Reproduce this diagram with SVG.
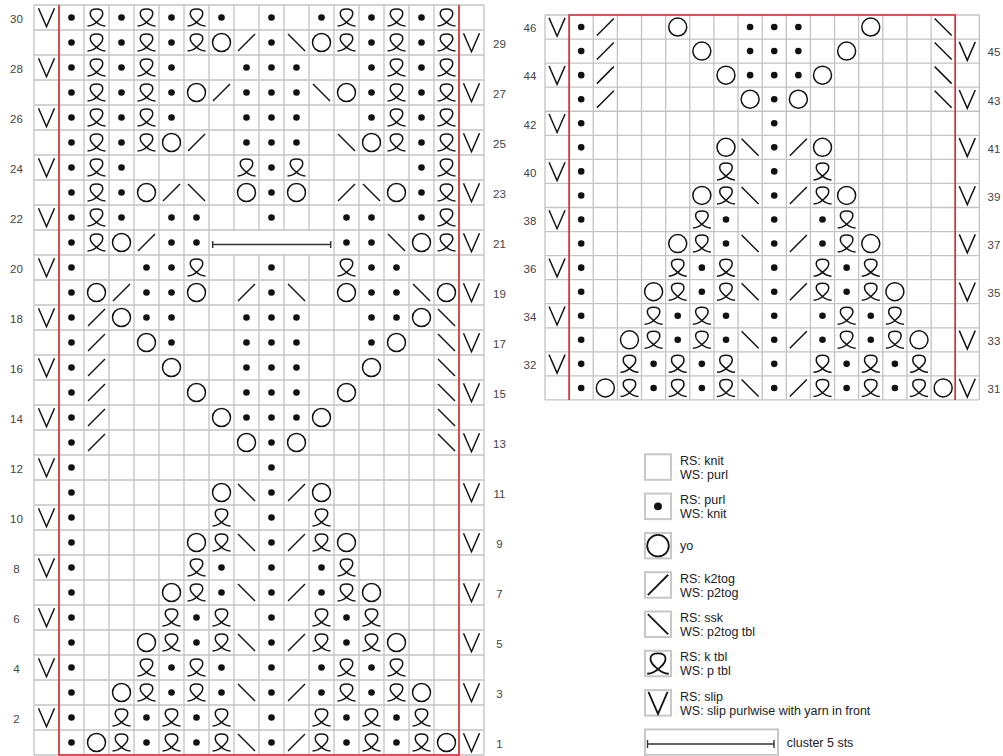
<svg xmlns="http://www.w3.org/2000/svg" width="1003" height="756" viewBox="0 0 1003 756">
<style>
.grid{fill:none;stroke:#c3c3c3;stroke-width:1.3}
.red{fill:none;stroke:#e3262d;stroke-width:1.6}
.lbl{font-family:"Liberation Sans",Arial,sans-serif;font-size:11.5px;fill:#444;text-anchor:middle}
.lg{font-family:"Liberation Sans",Arial,sans-serif;font-size:12.5px;fill:#222}
.box{fill:#fff;stroke:#c8c8c8;stroke-width:2}
.cl{fill:none;stroke:#333;stroke-width:1.4}
</style>
<defs>
<circle id="d" r="3.3" fill="#111"/>
<circle id="o" r="9" fill="none" stroke="#141414" stroke-width="1.5"/>
<path id="k" d="M-8.5 8.5L8.5-8.5" fill="none" stroke="#141414" stroke-width="1.5"/>
<path id="s" d="M-8.5-8.5L8.5 8.5" fill="none" stroke="#141414" stroke-width="1.5"/>
<path id="q" d="M-9 8.5C-5 8.5-1.5 6.5 2 3C7.5-1.5 8.5-8.5 0-8.5C-8.5-8.5-7.5-1.5-2 3C1.5 6.5 5 8.5 9 8.5" fill="none" stroke="#141414" stroke-width="1.5"/>
<path id="v" d="M-8-9.2L0 9.2L8-9.2" fill="none" stroke="#141414" stroke-width="1.5"/>
</defs>
<rect width="1003" height="756" fill="#fff"/>

<g id="chart-left">
<path class="grid" d="M34 5H484M34 30H484M34 55H484M34 80H484M34 105H484M34 130H484M34 155H484M34 180H484M34 205H484M34 230H484M34 255H484M34 280H484M34 305H484M34 330H484M34 355H484M34 380H484M34 405H484M34 430H484M34 455H484M34 480H484M34 505H484M34 530H484M34 555H484M34 580H484M34 605H484M34 630H484M34 655H484M34 680H484M34 705H484M34 730H484M34 755H484
M34 5V755M59 5V755M84 5V755M109 5V755M134 5V755M159 5V755M184 5V755M209 5V755M234 5V230M234 255V755M259 5V230M259 255V755M284 5V230M284 255V755M309 5V230M309 255V755M334 5V755M359 5V755M384 5V755M409 5V755M434 5V755M459 5V755M484 5V755"/>
<path class="red" d="M59 5V755H459V5"/>
<g id="left-stitches">
<g transform="translate(0,17.5)"><use href="#v" x="46.5"/><use href="#d" x="71.5"/><use href="#q" x="96.5"/><use href="#d" x="121.5"/><use href="#q" x="146.5"/><use href="#d" x="171.5"/><use href="#q" x="196.5"/><use href="#d" x="221.5"/><use href="#d" x="271.5"/><use href="#d" x="321.5"/><use href="#q" x="346.5"/><use href="#d" x="371.5"/><use href="#q" x="396.5"/><use href="#d" x="421.5"/><use href="#q" x="446.5"/></g>
<g transform="translate(0,42.5)"><use href="#d" x="71.5"/><use href="#q" x="96.5"/><use href="#d" x="121.5"/><use href="#q" x="146.5"/><use href="#d" x="171.5"/><use href="#q" x="196.5"/><use href="#o" x="221.5"/><use href="#k" x="246.5"/><use href="#d" x="271.5"/><use href="#s" x="296.5"/><use href="#o" x="321.5"/><use href="#q" x="346.5"/><use href="#d" x="371.5"/><use href="#q" x="396.5"/><use href="#d" x="421.5"/><use href="#q" x="446.5"/><use href="#v" x="471.5"/></g>
<g transform="translate(0,67.5)"><use href="#v" x="46.5"/><use href="#d" x="71.5"/><use href="#q" x="96.5"/><use href="#d" x="121.5"/><use href="#q" x="146.5"/><use href="#d" x="171.5"/><use href="#d" x="246.5"/><use href="#d" x="271.5"/><use href="#d" x="296.5"/><use href="#d" x="371.5"/><use href="#q" x="396.5"/><use href="#d" x="421.5"/><use href="#q" x="446.5"/></g>
<g transform="translate(0,92.5)"><use href="#d" x="71.5"/><use href="#q" x="96.5"/><use href="#d" x="121.5"/><use href="#q" x="146.5"/><use href="#d" x="171.5"/><use href="#o" x="196.5"/><use href="#k" x="221.5"/><use href="#d" x="246.5"/><use href="#d" x="271.5"/><use href="#d" x="296.5"/><use href="#s" x="321.5"/><use href="#o" x="346.5"/><use href="#d" x="371.5"/><use href="#q" x="396.5"/><use href="#d" x="421.5"/><use href="#q" x="446.5"/><use href="#v" x="471.5"/></g>
<g transform="translate(0,117.5)"><use href="#v" x="46.5"/><use href="#d" x="71.5"/><use href="#q" x="96.5"/><use href="#d" x="121.5"/><use href="#q" x="146.5"/><use href="#d" x="171.5"/><use href="#d" x="246.5"/><use href="#d" x="271.5"/><use href="#d" x="296.5"/><use href="#d" x="371.5"/><use href="#q" x="396.5"/><use href="#d" x="421.5"/><use href="#q" x="446.5"/></g>
<g transform="translate(0,142.5)"><use href="#d" x="71.5"/><use href="#q" x="96.5"/><use href="#d" x="121.5"/><use href="#q" x="146.5"/><use href="#o" x="171.5"/><use href="#k" x="196.5"/><use href="#d" x="246.5"/><use href="#d" x="271.5"/><use href="#d" x="296.5"/><use href="#s" x="346.5"/><use href="#o" x="371.5"/><use href="#q" x="396.5"/><use href="#d" x="421.5"/><use href="#q" x="446.5"/><use href="#v" x="471.5"/></g>
<g transform="translate(0,167.5)"><use href="#v" x="46.5"/><use href="#d" x="71.5"/><use href="#q" x="96.5"/><use href="#d" x="121.5"/><use href="#q" x="246.5"/><use href="#d" x="271.5"/><use href="#q" x="296.5"/><use href="#d" x="421.5"/><use href="#q" x="446.5"/></g>
<g transform="translate(0,192.5)"><use href="#d" x="71.5"/><use href="#q" x="96.5"/><use href="#d" x="121.5"/><use href="#o" x="146.5"/><use href="#k" x="171.5"/><use href="#s" x="196.5"/><use href="#o" x="246.5"/><use href="#d" x="271.5"/><use href="#o" x="296.5"/><use href="#k" x="346.5"/><use href="#s" x="371.5"/><use href="#o" x="396.5"/><use href="#d" x="421.5"/><use href="#q" x="446.5"/><use href="#v" x="471.5"/></g>
<g transform="translate(0,217.5)"><use href="#v" x="46.5"/><use href="#d" x="71.5"/><use href="#q" x="96.5"/><use href="#d" x="121.5"/><use href="#d" x="171.5"/><use href="#d" x="196.5"/><use href="#d" x="271.5"/><use href="#d" x="346.5"/><use href="#d" x="371.5"/><use href="#d" x="421.5"/><use href="#q" x="446.5"/></g>
<g transform="translate(0,242.5)"><use href="#d" x="71.5"/><use href="#q" x="96.5"/><use href="#o" x="121.5"/><use href="#k" x="146.5"/><use href="#d" x="171.5"/><use href="#d" x="196.5"/><use href="#d" x="346.5"/><use href="#d" x="371.5"/><use href="#s" x="396.5"/><use href="#o" x="421.5"/><use href="#q" x="446.5"/><use href="#v" x="471.5"/></g>
<g transform="translate(0,267.5)"><use href="#v" x="46.5"/><use href="#d" x="71.5"/><use href="#d" x="146.5"/><use href="#d" x="171.5"/><use href="#q" x="196.5"/><use href="#d" x="271.5"/><use href="#q" x="346.5"/><use href="#d" x="371.5"/><use href="#d" x="396.5"/></g>
<g transform="translate(0,292.5)"><use href="#d" x="71.5"/><use href="#o" x="96.5"/><use href="#k" x="121.5"/><use href="#d" x="146.5"/><use href="#d" x="171.5"/><use href="#o" x="196.5"/><use href="#k" x="246.5"/><use href="#d" x="271.5"/><use href="#s" x="296.5"/><use href="#o" x="346.5"/><use href="#d" x="371.5"/><use href="#d" x="396.5"/><use href="#s" x="421.5"/><use href="#o" x="446.5"/><use href="#v" x="471.5"/></g>
<g transform="translate(0,317.5)"><use href="#v" x="46.5"/><use href="#d" x="71.5"/><use href="#k" x="96.5"/><use href="#o" x="121.5"/><use href="#d" x="146.5"/><use href="#d" x="171.5"/><use href="#d" x="246.5"/><use href="#d" x="271.5"/><use href="#d" x="296.5"/><use href="#d" x="371.5"/><use href="#d" x="396.5"/><use href="#o" x="421.5"/><use href="#s" x="446.5"/></g>
<g transform="translate(0,342.5)"><use href="#d" x="71.5"/><use href="#k" x="96.5"/><use href="#o" x="146.5"/><use href="#d" x="171.5"/><use href="#d" x="246.5"/><use href="#d" x="271.5"/><use href="#d" x="296.5"/><use href="#d" x="371.5"/><use href="#o" x="396.5"/><use href="#s" x="446.5"/><use href="#v" x="471.5"/></g>
<g transform="translate(0,367.5)"><use href="#v" x="46.5"/><use href="#d" x="71.5"/><use href="#k" x="96.5"/><use href="#o" x="171.5"/><use href="#d" x="246.5"/><use href="#d" x="271.5"/><use href="#d" x="296.5"/><use href="#o" x="371.5"/><use href="#s" x="446.5"/></g>
<g transform="translate(0,392.5)"><use href="#d" x="71.5"/><use href="#k" x="96.5"/><use href="#o" x="196.5"/><use href="#d" x="246.5"/><use href="#d" x="271.5"/><use href="#d" x="296.5"/><use href="#o" x="346.5"/><use href="#s" x="446.5"/><use href="#v" x="471.5"/></g>
<g transform="translate(0,417.5)"><use href="#v" x="46.5"/><use href="#d" x="71.5"/><use href="#k" x="96.5"/><use href="#o" x="221.5"/><use href="#d" x="246.5"/><use href="#d" x="271.5"/><use href="#d" x="296.5"/><use href="#o" x="321.5"/><use href="#s" x="446.5"/></g>
<g transform="translate(0,442.5)"><use href="#d" x="71.5"/><use href="#k" x="96.5"/><use href="#o" x="246.5"/><use href="#d" x="271.5"/><use href="#o" x="296.5"/><use href="#s" x="446.5"/><use href="#v" x="471.5"/></g>
<g transform="translate(0,467.5)"><use href="#v" x="46.5"/><use href="#d" x="71.5"/><use href="#d" x="271.5"/></g>
<g transform="translate(0,492.5)"><use href="#d" x="71.5"/><use href="#o" x="221.5"/><use href="#s" x="246.5"/><use href="#d" x="271.5"/><use href="#k" x="296.5"/><use href="#o" x="321.5"/><use href="#v" x="471.5"/></g>
<g transform="translate(0,517.5)"><use href="#v" x="46.5"/><use href="#d" x="71.5"/><use href="#q" x="221.5"/><use href="#d" x="271.5"/><use href="#q" x="321.5"/></g>
<g transform="translate(0,542.5)"><use href="#d" x="71.5"/><use href="#o" x="196.5"/><use href="#q" x="221.5"/><use href="#s" x="246.5"/><use href="#d" x="271.5"/><use href="#k" x="296.5"/><use href="#q" x="321.5"/><use href="#o" x="346.5"/><use href="#v" x="471.5"/></g>
<g transform="translate(0,567.5)"><use href="#v" x="46.5"/><use href="#d" x="71.5"/><use href="#q" x="196.5"/><use href="#d" x="221.5"/><use href="#d" x="271.5"/><use href="#d" x="321.5"/><use href="#q" x="346.5"/></g>
<g transform="translate(0,592.5)"><use href="#d" x="71.5"/><use href="#o" x="171.5"/><use href="#q" x="196.5"/><use href="#d" x="221.5"/><use href="#s" x="246.5"/><use href="#d" x="271.5"/><use href="#k" x="296.5"/><use href="#d" x="321.5"/><use href="#q" x="346.5"/><use href="#o" x="371.5"/><use href="#v" x="471.5"/></g>
<g transform="translate(0,617.5)"><use href="#v" x="46.5"/><use href="#d" x="71.5"/><use href="#q" x="171.5"/><use href="#d" x="196.5"/><use href="#q" x="221.5"/><use href="#d" x="271.5"/><use href="#q" x="321.5"/><use href="#d" x="346.5"/><use href="#q" x="371.5"/></g>
<g transform="translate(0,642.5)"><use href="#d" x="71.5"/><use href="#o" x="146.5"/><use href="#q" x="171.5"/><use href="#d" x="196.5"/><use href="#q" x="221.5"/><use href="#s" x="246.5"/><use href="#d" x="271.5"/><use href="#k" x="296.5"/><use href="#q" x="321.5"/><use href="#d" x="346.5"/><use href="#q" x="371.5"/><use href="#o" x="396.5"/><use href="#v" x="471.5"/></g>
<g transform="translate(0,667.5)"><use href="#v" x="46.5"/><use href="#d" x="71.5"/><use href="#q" x="146.5"/><use href="#d" x="171.5"/><use href="#q" x="196.5"/><use href="#d" x="221.5"/><use href="#d" x="271.5"/><use href="#d" x="321.5"/><use href="#q" x="346.5"/><use href="#d" x="371.5"/><use href="#q" x="396.5"/></g>
<g transform="translate(0,692.5)"><use href="#d" x="71.5"/><use href="#o" x="121.5"/><use href="#q" x="146.5"/><use href="#d" x="171.5"/><use href="#q" x="196.5"/><use href="#d" x="221.5"/><use href="#s" x="246.5"/><use href="#d" x="271.5"/><use href="#k" x="296.5"/><use href="#d" x="321.5"/><use href="#q" x="346.5"/><use href="#d" x="371.5"/><use href="#q" x="396.5"/><use href="#o" x="421.5"/><use href="#v" x="471.5"/></g>
<g transform="translate(0,717.5)"><use href="#v" x="46.5"/><use href="#d" x="71.5"/><use href="#q" x="121.5"/><use href="#d" x="146.5"/><use href="#q" x="171.5"/><use href="#d" x="196.5"/><use href="#q" x="221.5"/><use href="#d" x="271.5"/><use href="#q" x="321.5"/><use href="#d" x="346.5"/><use href="#q" x="371.5"/><use href="#d" x="396.5"/><use href="#q" x="421.5"/></g>
<g transform="translate(0,742.5)"><use href="#d" x="71.5"/><use href="#o" x="96.5"/><use href="#q" x="121.5"/><use href="#d" x="146.5"/><use href="#q" x="171.5"/><use href="#d" x="196.5"/><use href="#q" x="221.5"/><use href="#s" x="246.5"/><use href="#d" x="271.5"/><use href="#k" x="296.5"/><use href="#q" x="321.5"/><use href="#d" x="346.5"/><use href="#q" x="371.5"/><use href="#d" x="396.5"/><use href="#q" x="421.5"/><use href="#o" x="446.5"/><use href="#v" x="471.5"/></g>
</g>
<path id="cluster-row21" class="cl" d="M212.7 244.5H330.7M212.7 241V248M330.7 241V248"/>
<g id="left-row-numbers" class="lbl">
<text x="16.5" y="22.8">30</text><text x="16.5" y="72.8">28</text><text x="16.5" y="122.8">26</text><text x="16.5" y="172.8">24</text><text x="16.5" y="222.8">22</text><text x="16.5" y="272.8">20</text><text x="16.5" y="322.8">18</text><text x="16.5" y="372.8">16</text><text x="16.5" y="422.8">14</text><text x="16.5" y="472.8">12</text><text x="16.5" y="522.8">10</text><text x="16.5" y="572.8">8</text><text x="16.5" y="622.8">6</text><text x="16.5" y="672.8">4</text><text x="16.5" y="722.8">2</text>
<text x="499.5" y="47.8">29</text><text x="499.5" y="97.8">27</text><text x="499.5" y="147.8">25</text><text x="499.5" y="197.8">23</text><text x="499.5" y="247.8">21</text><text x="499.5" y="297.8">19</text><text x="499.5" y="347.8">17</text><text x="499.5" y="397.8">15</text><text x="499.5" y="447.8">13</text><text x="499.5" y="497.8">11</text><text x="499.5" y="547.8">9</text><text x="499.5" y="597.8">7</text><text x="499.5" y="647.8">5</text><text x="499.5" y="697.8">3</text><text x="499.5" y="747.8">1</text>
</g>
</g>

<g id="chart-right">
<path class="grid" d="M545 15H979.34M545 39.06H979.34M545 63.12H979.34M545 87.18H979.34M545 111.24H979.34M545 135.3H979.34M545 159.36H979.34M545 183.42H979.34M545 207.48H979.34M545 231.54H979.34M545 255.6H979.34M545 279.66H979.34M545 303.72H979.34M545 327.78H979.34M545 351.84H979.34M545 375.9H979.34M545 399.96H979.34
M545 15V399.96M569.13 15V399.96M593.26 15V399.96M617.39 15V399.96M641.52 15V399.96M665.65 15V399.96M689.78 15V399.96M713.91 15V399.96M738.04 15V399.96M762.17 15V399.96M786.3 15V399.96M810.43 15V399.96M834.56 15V399.96M858.69 15V399.96M882.82 15V399.96M906.95 15V399.96M931.08 15V399.96M955.21 15V399.96M979.34 15V399.96"/>
<path class="red" d="M569.13 399.96V15H955.21V399.96"/>
<g id="right-stitches">
<g transform="translate(0,27.03)"><use href="#v" x="557.07"/><use href="#d" x="581.2"/><use href="#k" x="605.33"/><use href="#o" x="677.72"/><use href="#d" x="750.11"/><use href="#d" x="774.24"/><use href="#d" x="798.37"/><use href="#o" x="870.76"/><use href="#s" x="943.15"/></g>
<g transform="translate(0,51.09)"><use href="#d" x="581.2"/><use href="#k" x="605.33"/><use href="#o" x="701.85"/><use href="#d" x="750.11"/><use href="#d" x="774.24"/><use href="#d" x="798.37"/><use href="#o" x="846.63"/><use href="#s" x="943.15"/><use href="#v" x="967.28"/></g>
<g transform="translate(0,75.15)"><use href="#v" x="557.07"/><use href="#d" x="581.2"/><use href="#k" x="605.33"/><use href="#o" x="725.98"/><use href="#d" x="750.11"/><use href="#d" x="774.24"/><use href="#d" x="798.37"/><use href="#o" x="822.5"/><use href="#s" x="943.15"/></g>
<g transform="translate(0,99.21)"><use href="#d" x="581.2"/><use href="#k" x="605.33"/><use href="#o" x="750.11"/><use href="#d" x="774.24"/><use href="#o" x="798.37"/><use href="#s" x="943.15"/><use href="#v" x="967.28"/></g>
<g transform="translate(0,123.27)"><use href="#v" x="557.07"/><use href="#d" x="581.2"/><use href="#d" x="774.24"/></g>
<g transform="translate(0,147.33)"><use href="#d" x="581.2"/><use href="#o" x="725.98"/><use href="#s" x="750.11"/><use href="#d" x="774.24"/><use href="#k" x="798.37"/><use href="#o" x="822.5"/><use href="#v" x="967.28"/></g>
<g transform="translate(0,171.39)"><use href="#v" x="557.07"/><use href="#d" x="581.2"/><use href="#q" x="725.98"/><use href="#d" x="774.24"/><use href="#q" x="822.5"/></g>
<g transform="translate(0,195.45)"><use href="#d" x="581.2"/><use href="#o" x="701.85"/><use href="#q" x="725.98"/><use href="#s" x="750.11"/><use href="#d" x="774.24"/><use href="#k" x="798.37"/><use href="#q" x="822.5"/><use href="#o" x="846.63"/><use href="#v" x="967.28"/></g>
<g transform="translate(0,219.51)"><use href="#v" x="557.07"/><use href="#d" x="581.2"/><use href="#q" x="701.85"/><use href="#d" x="725.98"/><use href="#d" x="774.24"/><use href="#d" x="822.5"/><use href="#q" x="846.63"/></g>
<g transform="translate(0,243.57)"><use href="#d" x="581.2"/><use href="#o" x="677.72"/><use href="#q" x="701.85"/><use href="#d" x="725.98"/><use href="#s" x="750.11"/><use href="#d" x="774.24"/><use href="#k" x="798.37"/><use href="#d" x="822.5"/><use href="#q" x="846.63"/><use href="#o" x="870.76"/><use href="#v" x="967.28"/></g>
<g transform="translate(0,267.63)"><use href="#v" x="557.07"/><use href="#d" x="581.2"/><use href="#q" x="677.72"/><use href="#d" x="701.85"/><use href="#q" x="725.98"/><use href="#d" x="774.24"/><use href="#q" x="822.5"/><use href="#d" x="846.63"/><use href="#q" x="870.76"/></g>
<g transform="translate(0,291.69)"><use href="#d" x="581.2"/><use href="#o" x="653.59"/><use href="#q" x="677.72"/><use href="#d" x="701.85"/><use href="#q" x="725.98"/><use href="#s" x="750.11"/><use href="#d" x="774.24"/><use href="#k" x="798.37"/><use href="#q" x="822.5"/><use href="#d" x="846.63"/><use href="#q" x="870.76"/><use href="#o" x="894.89"/><use href="#v" x="967.28"/></g>
<g transform="translate(0,315.75)"><use href="#v" x="557.07"/><use href="#d" x="581.2"/><use href="#q" x="653.59"/><use href="#d" x="677.72"/><use href="#q" x="701.85"/><use href="#d" x="725.98"/><use href="#d" x="774.24"/><use href="#d" x="822.5"/><use href="#q" x="846.63"/><use href="#d" x="870.76"/><use href="#q" x="894.89"/></g>
<g transform="translate(0,339.81)"><use href="#d" x="581.2"/><use href="#o" x="629.46"/><use href="#q" x="653.59"/><use href="#d" x="677.72"/><use href="#q" x="701.85"/><use href="#d" x="725.98"/><use href="#s" x="750.11"/><use href="#d" x="774.24"/><use href="#k" x="798.37"/><use href="#d" x="822.5"/><use href="#q" x="846.63"/><use href="#d" x="870.76"/><use href="#q" x="894.89"/><use href="#o" x="919.02"/><use href="#v" x="967.28"/></g>
<g transform="translate(0,363.87)"><use href="#v" x="557.07"/><use href="#d" x="581.2"/><use href="#q" x="629.46"/><use href="#d" x="653.59"/><use href="#q" x="677.72"/><use href="#d" x="701.85"/><use href="#q" x="725.98"/><use href="#d" x="774.24"/><use href="#q" x="822.5"/><use href="#d" x="846.63"/><use href="#q" x="870.76"/><use href="#d" x="894.89"/><use href="#q" x="919.02"/></g>
<g transform="translate(0,387.93)"><use href="#d" x="581.2"/><use href="#o" x="605.33"/><use href="#q" x="629.46"/><use href="#d" x="653.59"/><use href="#q" x="677.72"/><use href="#d" x="701.85"/><use href="#q" x="725.98"/><use href="#s" x="750.11"/><use href="#d" x="774.24"/><use href="#k" x="798.37"/><use href="#q" x="822.5"/><use href="#d" x="846.63"/><use href="#q" x="870.76"/><use href="#d" x="894.89"/><use href="#q" x="919.02"/><use href="#o" x="943.15"/><use href="#v" x="967.28"/></g>
</g>
<g id="right-row-numbers" class="lbl">
<text x="530" y="32.3">46</text><text x="530" y="80.45">44</text><text x="530" y="128.57">42</text><text x="530" y="176.69">40</text><text x="530" y="224.81">38</text><text x="530" y="272.93">36</text><text x="530" y="321.05">34</text><text x="530" y="369.17">32</text>
<text x="994" y="56.39">45</text><text x="994" y="104.51">43</text><text x="994" y="152.63">41</text><text x="994" y="200.75">39</text><text x="994" y="248.87">37</text><text x="994" y="296.99">35</text><text x="994" y="345.11">33</text><text x="994" y="393.23">31</text>
</g>
</g>

<g id="legend">
<g id="key-knit"><rect class="box" x="645" y="454.3" width="26" height="25.5"/><text class="lg" x="680" y="464.8">RS: knit</text><text class="lg" x="680" y="478.8">WS: purl</text></g>
<g id="key-purl"><rect class="box" x="645" y="493.6" width="26" height="25.5"/><use href="#d" transform="translate(658,506.35) scale(1.2)"/><text class="lg" x="680" y="504.1">RS: purl</text><text class="lg" x="680" y="518.1">WS: knit</text></g>
<g id="key-yo"><rect class="box" x="645" y="532.9" width="26" height="25.5"/><use href="#o" transform="translate(658,545.65) scale(1.2)"/><text class="lg" x="680" y="549.5">yo</text></g>
<g id="key-k2tog"><rect class="box" x="645" y="572.2" width="26" height="25.5"/><use href="#k" transform="translate(658,584.95) scale(1.2)"/><text class="lg" x="680" y="582.7">RS: k2tog</text><text class="lg" x="680" y="596.7">WS: p2tog</text></g>
<g id="key-ssk"><rect class="box" x="645" y="611.5" width="26" height="25.5"/><use href="#s" transform="translate(658,624.25) scale(1.2)"/><text class="lg" x="680" y="622">RS: ssk</text><text class="lg" x="680" y="636">WS: p2tog tbl</text></g>
<g id="key-tbl"><rect class="box" x="645" y="650.8" width="26" height="25.5"/><use href="#q" transform="translate(658,663.55) scale(1.2)"/><text class="lg" x="680" y="661.3">RS: k tbl</text><text class="lg" x="680" y="675.3">WS: p tbl</text></g>
<g id="key-slip"><rect class="box" x="645" y="690.1" width="26" height="25.5"/><use href="#v" transform="translate(658,702.85) scale(1.2)"/><text class="lg" x="680" y="700.6">RS: slip</text><text class="lg" x="680" y="714.6">WS: slip purlwise with yarn in front</text></g>
<g id="key-cluster"><rect class="box" x="645" y="729.4" width="133" height="25.5"/><path class="cl" d="M647.5 744H774M647.5 740V748M774 740V748"/><text class="lg" x="786.7" y="746.5">cluster 5 sts</text></g>
</g>
</svg>
